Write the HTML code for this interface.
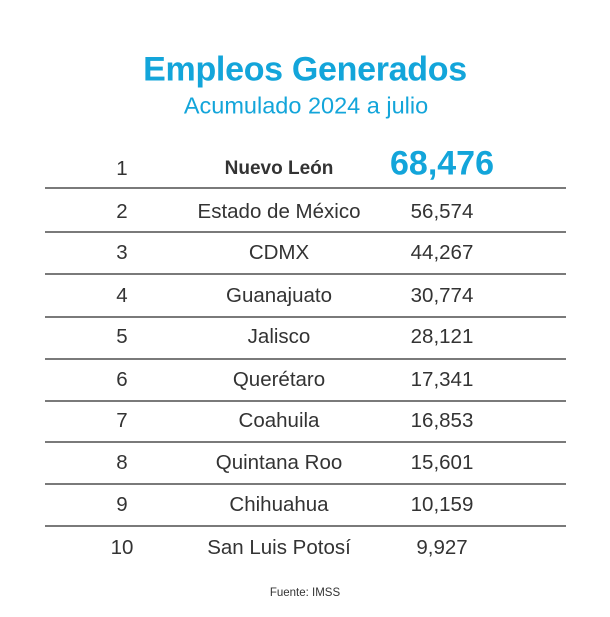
<!DOCTYPE html>
<html><head><meta charset="utf-8"><style>
body{margin:0;width:610px;height:617px;background:#fff;position:relative;font-family:"Liberation Sans",sans-serif;overflow:hidden}
.t{position:absolute;white-space:nowrap;transform:translate(-50%,-50%)}
.l{position:absolute;left:45px;width:521px;height:1.5px;background:#7a7a7a}
.c{color:#333;font-size:20.5px}
</style></head><body>
<div class="t" style="left:305px;top:70px;font-size:34px;font-weight:bold;color:#13a5da;letter-spacing:-0.3px">Empleos Generados</div>
<div class="t" style="left:306px;top:106px;font-size:23.5px;color:#13a5da">Acumulado 2024 a julio</div>
<div class="t c" style="left:122px;top:169px">1</div>
<div class="t" style="left:279px;top:169px;font-size:19px;font-weight:bold;color:#333">Nuevo León</div>
<div class="t" style="left:442px;top:164px;font-size:34px;font-weight:bold;color:#13a5da">68,476</div>
<div class="l" style="top:187px"></div>
<div class="l" style="top:231px"></div>
<div class="l" style="top:273px"></div>
<div class="l" style="top:316px"></div>
<div class="l" style="top:358px"></div>
<div class="l" style="top:400px"></div>
<div class="l" style="top:441px"></div>
<div class="l" style="top:483px"></div>
<div class="l" style="top:525px"></div>
<div class="t c" style="left:122px;top:212px">2</div><div class="t c" style="left:279px;top:212px">Estado de México</div><div class="t c" style="left:442px;top:212px">56,574</div>
<div class="t c" style="left:122px;top:253px">3</div><div class="t c" style="left:279px;top:253px">CDMX</div><div class="t c" style="left:442px;top:253px">44,267</div>
<div class="t c" style="left:122px;top:296px">4</div><div class="t c" style="left:279px;top:296px">Guanajuato</div><div class="t c" style="left:442px;top:296px">30,774</div>
<div class="t c" style="left:122px;top:337px">5</div><div class="t c" style="left:279px;top:337px">Jalisco</div><div class="t c" style="left:442px;top:337px">28,121</div>
<div class="t c" style="left:122px;top:380px">6</div><div class="t c" style="left:279px;top:380px">Querétaro</div><div class="t c" style="left:442px;top:380px">17,341</div>
<div class="t c" style="left:122px;top:421px">7</div><div class="t c" style="left:279px;top:421px">Coahuila</div><div class="t c" style="left:442px;top:421px">16,853</div>
<div class="t c" style="left:122px;top:463px">8</div><div class="t c" style="left:279px;top:463px">Quintana Roo</div><div class="t c" style="left:442px;top:463px">15,601</div>
<div class="t c" style="left:122px;top:505px">9</div><div class="t c" style="left:279px;top:505px">Chihuahua</div><div class="t c" style="left:442px;top:505px">10,159</div>
<div class="t c" style="left:122px;top:548px">10</div><div class="t c" style="left:279px;top:548px">San Luis Potosí</div><div class="t c" style="left:442px;top:548px">9,927</div>
<div class="t" style="left:305px;top:593px;font-size:11.5px;color:#333">Fuente: IMSS</div>
</body></html>
